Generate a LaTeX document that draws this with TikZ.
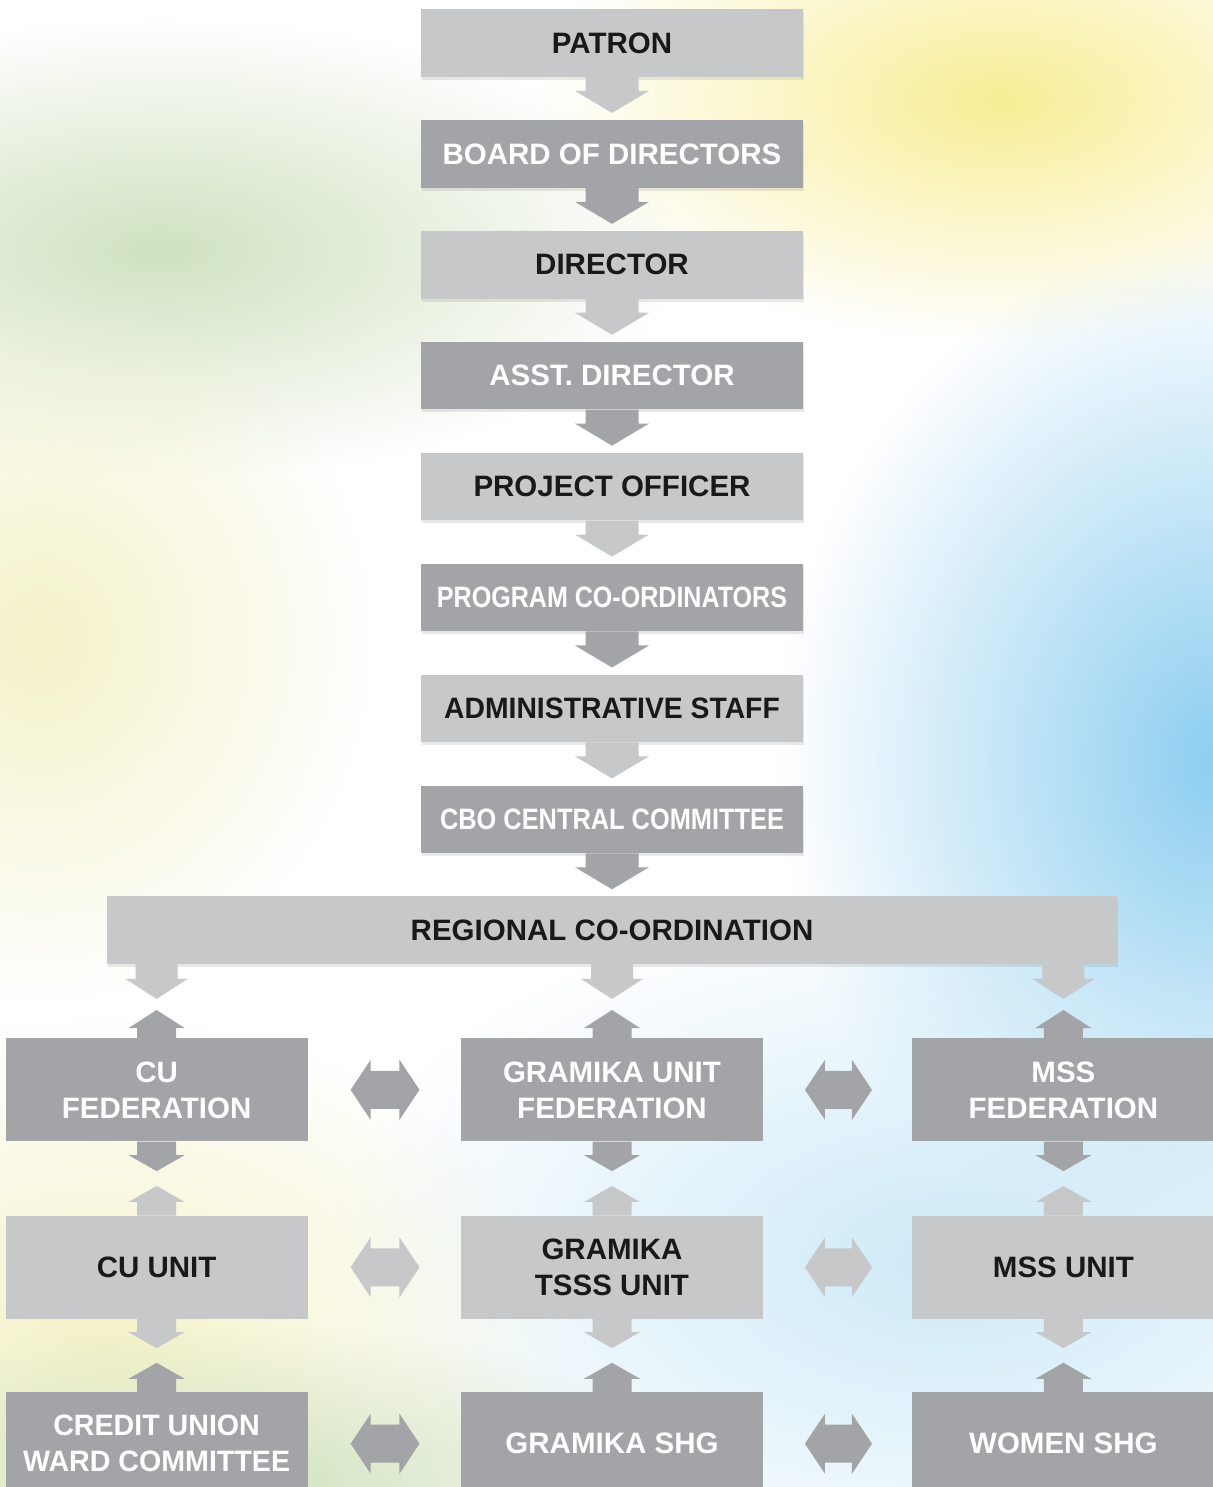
\documentclass[tikz,border=0pt]{standalone}
\usepackage{fontspec}
\setmainfont{Liberation Sans}
\usepackage{graphicx}
\usetikzlibrary{positioning,calc,shadows,fadings}

\definecolor{boxlight}{RGB}{198,200,202}
\definecolor{boxdark}{RGB}{162,164,167}
\definecolor{inkdark}{RGB}{25,25,25}
\definecolor{sunny}{RGB}{248,238,150}
\definecolor{leafy}{RGB}{208,226,192}
\definecolor{skyblue}{RGB}{140,206,240}
\definecolor{palesky}{RGB}{205,234,248}
\definecolor{paleyellow}{RGB}{244,242,200}

\tikzfading[name=glow, inner color=transparent!0, outer color=transparent!100]

\newcommand\squeeze[2]{\scalebox{#1}[1]{#2}}

% block arrow: colour, from, tip, stem half width, head half width, head length
\newcommand\flowarrow[6]{%
  \coordinate (fa-a) at (#2);
  \coordinate (fa-b) at (#3);
  \coordinate (fa-h) at ($(fa-b)!#6!(fa-a)$);
  \fill[fill=#1] ($(fa-a)!#4!90:(fa-b)$) -- ($(fa-h)!#4!90:(fa-b)$) -- ($(fa-h)!#5!90:(fa-b)$) -- (fa-b)
    -- ($(fa-h)!#5!-90:(fa-b)$) -- ($(fa-h)!#4!-90:(fa-b)$) -- ($(fa-a)!#4!-90:(fa-b)$) -- cycle;}

% two-headed block arrow, same arguments
\newcommand\swaparrow[6]{%
  \coordinate (sa-a) at (#2);
  \coordinate (sa-b) at (#3);
  \coordinate (sa-p) at ($(sa-a)!#6!(sa-b)$);
  \coordinate (sa-q) at ($(sa-b)!#6!(sa-a)$);
  \fill[fill=#1] (sa-a) -- ($(sa-p)!#5!90:(sa-b)$) -- ($(sa-p)!#4!90:(sa-b)$) -- ($(sa-q)!#4!90:(sa-b)$)
    -- ($(sa-q)!#5!90:(sa-b)$) -- (sa-b) -- ($(sa-q)!#5!-90:(sa-b)$) -- ($(sa-q)!#4!-90:(sa-b)$)
    -- ($(sa-p)!#4!-90:(sa-b)$) -- ($(sa-p)!#5!-90:(sa-b)$) -- cycle;}

\begin{document}
\begin{tikzpicture}[x=1pt,y=-1pt,node distance=43pt,
    unitbox/.style={rectangle,inner sep=0pt,align=center,font=\bfseries\fontsize{29.5pt}{36pt}\selectfont},
    lightbox/.style={unitbox,fill=boxlight,text=inkdark},
    darkbox/.style={unitbox,fill=boxdark,text=white},
    colbox/.style={minimum width=382pt,minimum height=67.5pt,
      drop shadow={shadow xshift=1pt,shadow yshift=-3pt,opacity=.2,fill=black!45}},
    rowbox/.style={minimum width=302pt,minimum height=103pt}]
  \useasboundingbox (0,0) rectangle (1212,1487);
  % background
  \fill[white] (0,0) rectangle (1212,1487);
  \fill[leafy, path fading=glow] (160,250) ellipse (520 and 230);
  \fill[paleyellow, path fading=glow] (40,640) ellipse (330 and 360);
  \fill[sunny, path fading=glow] (1000,100) ellipse (460 and 240);
  \fill[skyblue, path fading=glow] (1220,760) ellipse (440 and 520);
  \fill[palesky, path fading=glow] (950,1260) ellipse (620 and 360);
  \fill[paleyellow, path fading=glow] (100,1340) ellipse (460 and 320);
  \fill[leafy, path fading=glow] (220,1487) ellipse (520 and 160);

  % main column
  \node[lightbox,colbox] (patron) at (612,43) {PATRON};
  \node[darkbox,colbox,below=of patron] (board) {BOARD OF DIRECTORS};
  \node[lightbox,colbox,below=of board] (director) {DIRECTOR};
  \node[darkbox,colbox,below=of director] (asst) {ASST. DIRECTOR};
  \node[lightbox,colbox,below=of asst] (officer) {PROJECT OFFICER};
  \node[darkbox,colbox,below=of officer] (coord) {\squeeze{0.85}{PROGRAM CO-ORDINATORS}};
  \node[lightbox,colbox,below=of coord] (staff) {\squeeze{0.96}{ADMINISTRATIVE STAFF}};
  \node[darkbox,colbox,below=of staff] (cbo) {\squeeze{0.86}{CBO CENTRAL COMMITTEE}};
  \node[lightbox,colbox,minimum width=1010pt,below=of cbo] (regional) {REGIONAL CO-ORDINATION};

  % three branches
  \node[darkbox,rowbox,below=74pt of regional] (gufed) {GRAMIKA UNIT\\FEDERATION};
  \node[darkbox,rowbox,left=153pt of gufed] (cufed) {CU\\FEDERATION};
  \node[darkbox,rowbox,right=149pt of gufed] (mssfed) {MSS\\FEDERATION};
  \node[lightbox,rowbox,below=74pt of cufed] (cuunit) {CU UNIT};
  \node[lightbox,rowbox,below=74pt of gufed] (guunit) {GRAMIKA\\TSSS UNIT};
  \node[lightbox,rowbox,below=74pt of mssfed] (mssunit) {MSS UNIT};
  \node[darkbox,rowbox,below=73pt of cuunit] (cuward) {\squeeze{0.97}{CREDIT UNION}\\\squeeze{0.97}{WARD COMMITTEE}};
  \node[darkbox,rowbox,below=73pt of guunit] (gushg) {GRAMIKA SHG};
  \node[darkbox,rowbox,below=73pt of mssunit] (womenshg) {WOMEN SHG};

  % arrows down the column
  \foreach \a/\b/\c in {patron/board/boxlight, board/director/boxdark, director/asst/boxlight,
      asst/officer/boxdark, officer/coord/boxlight, coord/staff/boxdark, staff/cbo/boxlight,
      cbo/regional/boxdark}
    {\flowarrow{\c}{\a.south}{$(\b.north)+(0,-7)$}{26.5pt}{37pt}{22pt}}

  % regional co-ordination to the federations
  \foreach \n in {cufed,gufed,mssfed} {
    \flowarrow{boxlight}{regional.south -| \n.north}{$(regional.south -| \n.north)!0.47!(\n.north)$}{21pt}{31pt}{20pt}
    \flowarrow{boxdark}{\n.north}{$(\n.north)!0.38!(regional.south -| \n.north)$}{19.5pt}{28pt}{18pt}
  }

  % between the rows
  \foreach \a/\b in {cufed/cuunit, gufed/guunit, mssfed/mssunit} {
    \flowarrow{boxdark}{\a.south}{$(\a.south)!0.4!(\b.north)$}{19.5pt}{28pt}{16pt}
    \flowarrow{boxlight}{\b.north}{$(\b.north)!0.4!(\a.south)$}{19.5pt}{28pt}{16pt}
  }
  \foreach \a/\b in {cuunit/cuward, guunit/gushg, mssunit/womenshg} {
    \flowarrow{boxlight}{\a.south}{$(\a.south)!0.4!(\b.north)$}{19.5pt}{28pt}{16pt}
    \flowarrow{boxdark}{\b.north}{$(\b.north)!0.4!(\a.south)$}{19.5pt}{28pt}{16pt}
  }

  % side links
  \foreach \a/\b/\c in {cufed/gufed/boxdark, gufed/mssfed/boxdark, cuunit/guunit/boxlight,
      guunit/mssunit/boxlight, cuward/gushg/boxdark, gushg/womenshg/boxdark}
    {\swaparrow{\c}{$(\a.east)!0.28!(\b.west)$}{$(\a.east)!0.73!(\b.west)$}{19pt}{30pt}{20pt}}
\end{tikzpicture}
\end{document}
